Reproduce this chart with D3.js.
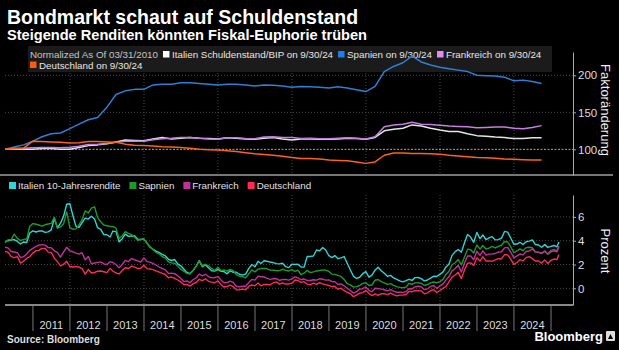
<!DOCTYPE html>
<html>
<head>
<meta charset="utf-8">
<script src="https://cdn.jsdelivr.net/npm/d3@7"></script>
<style>
  body { margin: 0; background: #000; }
  svg { display: block; font-family: "Liberation Sans", Arial, sans-serif; }
</style>
</head>
<body>
<svg width="619" height="350"></svg>
<script>
// quarterly debt-to-GDP, normalized to 100 at 3/31/2010 (2010Q1 .. 2024Q3)
const itDebt = [100, 100.5, 100, 100, 101, 101, 100, 100, 102.5, 105, 106, 107.5, 110, 112.5, 112, 111.5,
  114, 116, 114, 115, 116, 115, 114.5, 114, 115.5, 115, 114, 113.5, 115, 116, 114, 112.5, 114, 114, 113.5, 113.5,
  114, 114.8, 114.5, 113.5, 116, 125, 127, 128.5, 133, 131.5, 128.5, 126, 124, 124, 121, 118.5, 117.5, 116.5,
  116, 114.5, 114.5, 115.5, 115.7]
const esDebt = [100, 103, 106, 111, 117, 121, 122, 128, 134, 140, 143, 157, 174, 179, 181, 181,
  187, 188, 188, 190, 190, 189, 188, 187, 188, 188, 187, 185.5, 187, 186.5, 185.5, 184, 185, 184.6, 184, 183,
  184.6, 183, 180.5, 178, 185, 205, 212, 217, 226, 218, 214, 211, 209, 207, 205, 200, 199.5, 199,
  197.5, 192.5, 193.5, 191.5, 189]
const frDebt = [100, 101, 101.5, 102, 102.5, 102.5, 102, 102.7, 104, 106.5, 107, 108, 109.5, 111, 111, 111,
  113, 114.3, 115, 116, 116, 115, 114, 113.5, 115.5, 115.5, 114.5, 114.3, 116.5, 117, 116, 116, 114.5, 115, 114.3, 114.3,
  115, 115.5, 115, 114, 117, 130.5, 133, 134, 136.5, 134, 133.5, 132.5, 131.5, 131, 130.5, 129.2, 129.5, 130,
  130, 128.5, 127.8, 129.5, 132]
const deDebt = [100, 101, 101.5, 111, 110.5, 110, 109.5, 108.5, 109, 110.5, 110.5, 110, 109.5, 107, 105.5, 105,
  104.5, 103.5, 103, 102.5, 101.5, 100, 99.5, 99, 98, 97, 95.5, 94, 93, 92, 90.5, 89, 87.5, 87.5, 87, 85.5,
  85, 84.5, 83, 81, 83, 92, 95, 95, 94.5, 94.5, 94, 93.5, 92, 91, 90, 89, 88.5, 88,
  87, 86.5, 86, 85.5, 85.5]

// monthly 10y yields in percent (Mar 2010 .. Mar 2025)
const itYield = [3.91, 4.00, 4.06, 4.09, 3.94, 3.73, 3.89, 3.85, 4.65, 4.82,
  4.73, 4.81, 4.83, 4.70, 4.74, 4.91, 5.87, 5.07, 5.47, 6.07, 7.06, 7.11,
  6.10, 5.23, 5.12, 5.52, 5.90, 5.82, 6.06, 5.82, 5.09, 4.96, 4.51, 4.50,
  4.31, 4.81, 4.76, 3.91, 4.17, 4.55, 4.36, 4.40, 4.42, 4.13, 4.10, 4.13,
  3.80, 3.47, 3.28, 3.12, 2.99, 2.85, 2.72, 2.44, 2.34, 2.42, 2.05, 1.89,
  1.60, 1.33, 1.24, 1.49, 1.87, 2.33, 1.82, 1.97, 1.73, 1.48, 1.45, 1.60,
  1.43, 1.41, 1.22, 1.48, 1.35, 1.35, 1.18, 1.11, 1.20, 1.66, 2.00, 1.81,
  2.27, 2.09, 2.32, 2.27, 2.21, 2.16, 2.08, 2.05, 2.11, 1.82, 1.74, 2.02,
  2.01, 2.02, 1.79, 1.78, 2.68, 2.68, 2.72, 3.22, 3.15, 3.43, 3.22, 2.74,
  2.58, 2.75, 2.49, 2.56, 2.67, 2.10, 1.54, 1.01, 0.83, 0.93, 1.23, 1.41,
  0.94, 1.11, 1.52, 1.77, 1.48, 1.26, 1.01, 1.09, 0.87, 0.76, 0.63, 0.54,
  0.64, 0.76, 0.67, 0.90, 0.91, 0.82, 0.62, 0.70, 0.86, 1.02, 1.00, 1.17,
  1.38, 1.78, 2.04, 2.77, 3.08, 3.26, 3.04, 3.83, 4.52, 4.29, 3.87, 4.70,
  4.17, 4.48, 4.10, 4.23, 4.34, 4.07, 4.09, 4.22, 4.78, 4.72, 4.23, 3.70,
  3.72, 3.87, 3.68, 3.91, 3.97, 4.07, 3.68, 3.64, 3.45, 3.67, 3.44, 3.52,
  3.60, 3.49, 3.90]
const esYield = [3.83, 4.08, 4.07, 4.56, 4.20, 4.01, 4.11, 4.14, 5.20, 5.45,
  5.38, 5.32, 5.22, 5.34, 5.40, 5.46, 5.97, 5.06, 5.16, 5.43, 6.42, 5.09,
  4.96, 4.99, 5.34, 5.77, 6.51, 6.33, 6.74, 6.85, 5.94, 5.59, 5.32, 5.26,
  5.20, 5.20, 5.06, 4.19, 4.42, 4.77, 4.62, 4.51, 4.30, 4.02, 4.12, 4.15,
  3.78, 3.52, 3.24, 3.02, 2.90, 2.66, 2.54, 2.23, 2.14, 2.11, 1.87, 1.61,
  1.43, 1.25, 1.21, 1.49, 1.84, 2.30, 1.90, 2.02, 1.89, 1.67, 1.50, 1.77,
  1.50, 1.54, 1.44, 1.60, 1.49, 1.16, 1.02, 0.99, 0.88, 1.20, 1.55, 1.38,
  1.60, 1.66, 1.67, 1.64, 1.53, 1.52, 1.49, 1.49, 1.60, 1.51, 1.46, 1.57,
  1.42, 1.52, 1.16, 1.27, 1.51, 1.32, 1.38, 1.46, 1.50, 1.55, 1.52, 1.42,
  1.19, 1.17, 1.09, 1.00, 0.74, 0.39, 0.29, 0.10, 0.14, 0.24, 0.42, 0.47,
  0.24, 0.28, 0.68, 0.74, 0.56, 0.46, 0.33, 0.39, 0.25, 0.14, 0.08, 0.05,
  0.10, 0.42, 0.34, 0.46, 0.48, 0.41, 0.24, 0.32, 0.46, 0.53, 0.47, 0.57,
  0.75, 1.17, 1.44, 1.98, 2.15, 2.42, 1.97, 2.64, 3.29, 3.24, 2.96, 3.65,
  3.29, 3.60, 3.30, 3.38, 3.52, 3.39, 3.53, 3.62, 3.93, 3.89, 3.49, 2.99,
  3.14, 3.32, 3.16, 3.42, 3.45, 3.41, 3.06, 3.04, 2.93, 3.11, 2.86, 3.06,
  3.15, 3.07, 3.45]
const frYield = [3.45, 3.40, 3.09, 3.05, 3.00, 2.58, 2.66, 2.88, 3.19, 3.36,
  3.52, 3.62, 3.67, 3.63, 3.42, 3.41, 3.15, 3.00, 2.62, 3.07, 3.45, 3.15,
  3.07, 2.96, 2.88, 2.99, 2.39, 2.68, 2.06, 2.13, 2.18, 2.22, 2.05, 2.00,
  2.24, 2.17, 2.00, 1.72, 2.00, 2.35, 2.24, 2.50, 2.40, 2.31, 2.21, 2.56,
  2.24, 2.20, 2.09, 1.96, 1.79, 1.67, 1.55, 1.25, 1.28, 1.23, 1.05, 0.83,
  0.56, 0.63, 0.48, 0.72, 0.87, 1.19, 1.05, 1.18, 0.99, 0.88, 0.91, 0.99,
  0.71, 0.47, 0.48, 0.60, 0.50, 0.18, 0.13, 0.18, 0.18, 0.48, 0.75, 0.69,
  1.03, 0.97, 0.97, 0.84, 0.75, 0.82, 0.81, 0.67, 0.74, 0.75, 0.69, 0.79,
  0.96, 0.89, 0.72, 0.78, 0.67, 0.66, 0.72, 0.69, 0.80, 0.76, 0.69, 0.71,
  0.56, 0.55, 0.32, 0.37, 0.21, 0.00, -0.18, -0.40, -0.28, -0.07, -0.03, 0.12,
  -0.18, -0.29, 0.01, -0.02, -0.07, -0.12, -0.21, -0.11, -0.24, -0.33, -0.33, -0.34,
  -0.28, -0.03, -0.05, 0.13, 0.17, 0.13, -0.11, -0.04, 0.16, 0.24, 0.00, 0.20,
  0.38, 0.69, 0.99, 1.46, 1.67, 1.93, 1.37, 2.13, 2.72, 2.73, 2.40, 3.12,
  2.77, 3.15, 2.79, 2.87, 2.89, 2.93, 3.05, 3.07, 3.40, 3.44, 3.05, 2.56,
  2.72, 2.88, 2.81, 3.09, 3.14, 3.30, 3.06, 3.02, 2.92, 3.13, 2.89, 3.19,
  3.24, 3.15, 3.55]
const deYield = [3.09, 3.04, 2.67, 2.58, 2.66, 2.12, 2.28, 2.51, 2.67, 2.96,
  3.17, 3.19, 3.35, 3.34, 3.04, 3.02, 2.54, 2.22, 1.89, 2.03, 2.27, 1.83,
  1.79, 1.82, 1.79, 1.66, 1.20, 1.58, 1.29, 1.33, 1.44, 1.46, 1.39, 1.32,
  1.67, 1.45, 1.29, 1.21, 1.51, 1.73, 1.67, 1.86, 1.78, 1.67, 1.69, 1.93,
  1.66, 1.62, 1.57, 1.47, 1.36, 1.25, 1.16, 0.89, 0.95, 0.84, 0.70, 0.54,
  0.30, 0.33, 0.18, 0.37, 0.49, 0.76, 0.64, 0.80, 0.59, 0.52, 0.47, 0.63,
  0.33, 0.11, 0.15, 0.27, 0.14, -0.13, -0.12, -0.07, -0.12, 0.16, 0.28, 0.21,
  0.44, 0.21, 0.33, 0.32, 0.30, 0.47, 0.54, 0.36, 0.46, 0.36, 0.37, 0.43,
  0.70, 0.66, 0.50, 0.56, 0.34, 0.30, 0.44, 0.33, 0.47, 0.38, 0.31, 0.24,
  0.15, 0.18, -0.07, 0.01, -0.20, -0.33, -0.44, -0.70, -0.57, -0.41, -0.36, -0.19,
  -0.43, -0.61, -0.47, -0.59, -0.45, -0.45, -0.53, -0.40, -0.52, -0.63, -0.57, -0.57,
  -0.52, -0.26, -0.29, -0.20, -0.19, -0.21, -0.46, -0.38, -0.20, -0.11, -0.35, -0.18,
  0.01, 0.14, 0.55, 0.94, 1.12, 1.34, 0.82, 1.54, 2.11, 2.14, 1.93, 2.57,
  2.29, 2.65, 2.29, 2.31, 2.28, 2.39, 2.49, 2.47, 2.84, 2.81, 2.45, 2.02,
  2.17, 2.41, 2.30, 2.58, 2.66, 2.50, 2.30, 2.30, 2.12, 2.39, 2.09, 2.36,
  2.46, 2.41, 2.85]

const topLegendLabels = ["Italien Schuldenstand/BIP on 9/30/24", "Spanien on 9/30/24", "Frankreich on 9/30/24", "Deutschland on 9/30/24"]
const bottomLegendLabels = ["Italien 10-Jahresrendite", "Sapnien", "Frankreich", "Deutschland"]
const topTicks = [100, 150, 200]
const bottomTicks = [0, 2, 4, 6]
const yearLabels = d3.range(2011, 2025)

const topColors = ["#e6e6e6", "#2d7fd8", "#c47fe4", "#ff6216"]
const topSwatch = ["#ffffff", "#1f7fe8", "#e08cf2", "#ff5a10"]
const botColors = ["#2fd4d4", "#1c9a2c", "#c2309c", "#ff2a55"]

// dates
const qDates = itDebt.map((d, i) => new Date(2010, 3 + 3 * i, 0))
const mDates = itYield.map((d, i) => i < itYield.length - 1 ? new Date(2010, 3 + i, 0) : new Date(2025, 2, 20))

const svg = d3.select("svg")
svg.append("rect").attr("width", 619).attr("height", 350).attr("fill", "#000")

const x = d3.scaleTime().domain([new Date(2010, 2, 31), new Date(2025, 7, 6)]).range([5, 573])
const yTop = d3.scaleLinear().domain([65.3, 231.5]).range([175, 52])
const yBot = d3.scaleLinear().domain([-1.4, 7.84]).range([305, 195])

// titles
svg.append("text").attr("x", 7).attr("y", 24).attr("fill", "#fff")
  .attr("font-size", 19.5).attr("font-weight", "bold").text("Bondmarkt schaut auf Schuldenstand")
svg.append("text").attr("x", 7).attr("y", 40).attr("fill", "#fff")
  .attr("font-size", 14.6).attr("font-weight", "bold").text("Steigende Renditen könnten Fiskal-Euphorie trüben")

// grid
const gridYears = d3.range(2012, 2025, 2).map(y => new Date(y, 0, 1))
const grid = svg.append("g").attr("stroke", "#4a4a4a").attr("stroke-dasharray", "1,2")
grid.selectAll(".vt").data(gridYears).join("line")
  .attr("x1", d => x(d)).attr("x2", d => x(d)).attr("y1", 46).attr("y2", 174)
grid.selectAll(".vb").data(gridYears).join("line")
  .attr("x1", d => x(d)).attr("x2", d => x(d)).attr("y1", 195).attr("y2", 304)
grid.selectAll(".ht").data(topTicks.filter(d => d !== 100)).join("line")
  .attr("x1", 5).attr("x2", 573).attr("y1", d => yTop(d)).attr("y2", d => yTop(d))
grid.selectAll(".hb").data(bottomTicks).join("line")
  .attr("x1", 5).attr("x2", 573).attr("y1", d => yBot(d)).attr("y2", d => yBot(d))
svg.append("line").attr("x1", 5).attr("x2", 573).attr("y1", yTop(100)).attr("y2", yTop(100))
  .attr("stroke", "#aaa").attr("stroke-dasharray", "2,1.5")

// top legend box
svg.append("rect").attr("x", 28).attr("y", 46).attr("width", 524).attr("height", 26).attr("fill", "#1b1b1b")
const tl = svg.append("g").attr("font-size", 9.8)
let lx = 30, ly = 58
const note = tl.append("text").attr("x", lx).attr("y", ly).attr("fill", "#c4c4c4").text("Normalized As Of 03/31/2010")
lx += note.node().getComputedTextLength() + 5
topLegendLabels.forEach((lab, i) => {
  const t = tl.append("text").attr("y", ly).attr("fill", "#e6e6e6").text(lab)
  const w = t.node().getComputedTextLength()
  if (lx + 9 + w > 558) { lx = 30; ly += 10.5 }
  t.attr("x", lx + 9).attr("y", ly)
  tl.append("rect").attr("x", lx).attr("y", ly - 7).attr("width", 6.5).attr("height", 6.5).attr("fill", topSwatch[i])
  lx += 9 + w + 5
})

// top lines
const lineTop = d3.line().x((d, i) => x(qDates[i])).y(d => yTop(d))
;[itDebt, esDebt, frDebt, deDebt].forEach((s, i) => {
  svg.append("path").datum(s).attr("d", lineTop).attr("fill", "none")
    .attr("stroke", topColors[i]).attr("stroke-width", 1.5).attr("stroke-linejoin", "round")
})

// bottom legend
const bl = svg.append("g").attr("font-size", 9.8)
let bx = 9
bottomLegendLabels.forEach((lab, i) => {
  bl.append("rect").attr("x", bx).attr("y", 182).attr("width", 7).attr("height", 7).attr("fill", botColors[i])
  const t = bl.append("text").attr("x", bx + 9).attr("y", 189).attr("fill", "#e0e0e0").text(lab)
  bx += 9 + t.node().getComputedTextLength() + 9
})

// bottom lines
const lineBot = d3.line().x((d, i) => x(mDates[i])).y(d => yBot(d))
;[itYield, esYield, frYield, deYield].forEach((s, i) => {
  svg.append("path").datum(s).attr("d", lineBot).attr("fill", "none")
    .attr("stroke", botColors[i]).attr("stroke-width", 1.4).attr("stroke-linejoin", "round")
})

// panel frame lines
svg.append("line").attr("x1", 0).attr("x2", 613).attr("y1", 175).attr("y2", 175).attr("stroke", "#777").attr("stroke-width", 2)
svg.append("line").attr("x1", 5).attr("x2", 573).attr("y1", 305).attr("y2", 305).attr("stroke", "#888").attr("stroke-width", 2)

// right axes
const styleAxis = g => {
  g.select(".domain").attr("stroke", "#aaa")
  g.selectAll(".tick line").attr("stroke", "#aaa")
  g.selectAll(".tick text").attr("fill", "#ddd").attr("font-size", 11.5).attr("font-family", "Liberation Sans, Arial, sans-serif")
}
svg.append("g").attr("transform", "translate(573,0)")
  .call(d3.axisRight(yTop).tickValues(topTicks).tickSize(3).tickSizeOuter(0).tickPadding(2))
  .call(styleAxis)
svg.append("g").attr("transform", "translate(573,0)")
  .call(d3.axisRight(yBot).tickValues(bottomTicks).tickSize(3).tickSizeOuter(0).tickPadding(2))
  .call(styleAxis)

svg.append("text").attr("transform", "translate(601,110) rotate(90)").attr("text-anchor", "middle")
  .attr("fill", "#eee").attr("font-size", 13).text("Faktoränderung")
svg.append("text").attr("transform", "translate(601,251) rotate(90)").attr("text-anchor", "middle")
  .attr("fill", "#eee").attr("font-size", 13).text("Prozent")

// x axis: year separators and labels
const sepYears = d3.range(2011, 2026).map(y => new Date(y, 0, 1))
svg.append("g").attr("stroke", "#777").selectAll("line").data(sepYears).join("line")
  .attr("x1", d => x(d)).attr("x2", d => x(d)).attr("y1", 306).attr("y2", 331)
svg.append("g").attr("fill", "#ddd").attr("font-size", 11).attr("text-anchor", "middle")
  .selectAll("text").data(yearLabels).join("text")
  .attr("x", d => x(new Date(d, 6, 1))).attr("y", 329).text(d => d)

// footer
svg.append("text").attr("x", 7).attr("y", 343).attr("fill", "#ddd").attr("font-size", 10)
  .attr("font-weight", "bold").text("Source: Bloomberg")
svg.append("text").attr("x", 603).attr("y", 341).attr("fill", "#fff").attr("font-size", 13)
  .attr("font-weight", "bold").attr("text-anchor", "end").text("Bloomberg")
svg.append("rect").attr("x", 606).attr("y", 331).attr("width", 9).attr("height", 10).attr("rx", 1).attr("fill", "#ddd")
svg.append("path").attr("d", "M608,339 L610.5,334 L613,339 Z").attr("fill", "#000")
</script>
</body>
</html>
